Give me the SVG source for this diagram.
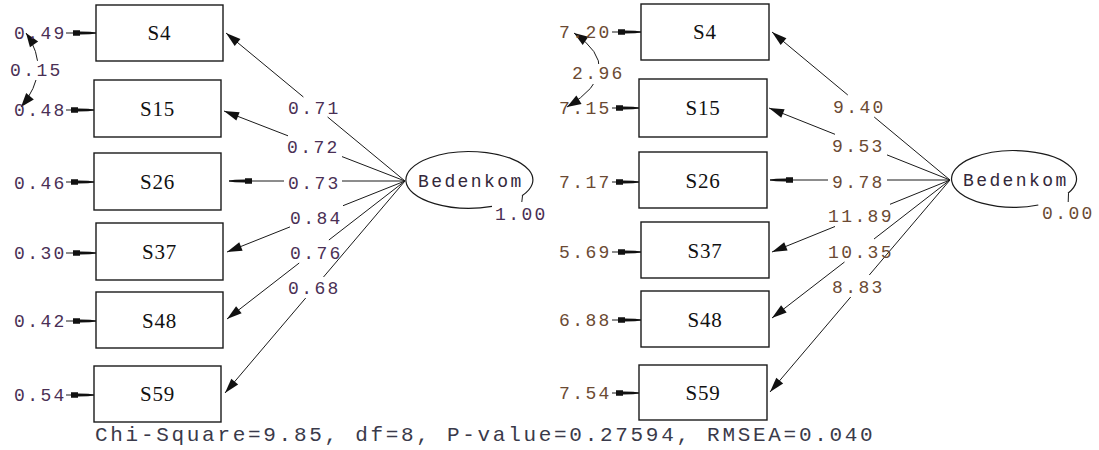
<svg xmlns="http://www.w3.org/2000/svg" width="1099" height="450" viewBox="0 0 1099 450">
  <style>
    .box { fill: #fff; stroke: #1a1a1a; stroke-width: 1.4; }
    .lat { fill: none; stroke: #1a1a1a; stroke-width: 1.2; }
    .bl { font-family: "Liberation Serif", serif; font-size: 21px; letter-spacing: 0.8px; fill: #111; text-anchor: middle; }
    .num { font-family: "Liberation Mono", monospace; font-size: 18px; letter-spacing: 2.4px; }
    .lv { fill: #4a2f55; }
    .rv { fill: #6b4a33; }
    .nm { fill: #33283a; }
    .ln { fill: none; stroke: #1a1a1a; stroke-width: 1; }
    .fit { font-family: "Liberation Mono", monospace; font-size: 21px; letter-spacing: 2.7px; fill: #3a3a4a; }
  </style>
  <defs>
    <marker id="ah" viewBox="-16 -6 17 12" refX="0" refY="0" markerWidth="17" markerHeight="12" markerUnits="userSpaceOnUse" orient="auto">
      <path d="M0,0 L-15,-4.5 L-15,4.5 z" fill="#111"/>
    </marker>
    <marker id="hh" viewBox="-24 -4 25 8" refX="0" refY="0" markerWidth="25" markerHeight="8" markerUnits="userSpaceOnUse" orient="auto">
      <path d="M0,0.6 L-6,1.2 L-16,1.6 L-16,2.8 L-23,2.8 L-23,-2.8 L-16,-2.8 L-16,-1.6 L-6,-1.2 L0,-0.6 z" fill="#111"/>
    </marker>
    <marker id="ch" viewBox="-15 -6 16 12" refX="0" refY="0" markerWidth="16" markerHeight="12" markerUnits="userSpaceOnUse" orient="auto-start-reverse">
      <path d="M0,0 L-14,-5 L-14,5 z" fill="#111"/>
    </marker>
  </defs>
  <rect width="1099" height="450" fill="#fff"/>

  <!-- connectors -->
  <g id="connectors" class="ln">
    <!-- left model: error arrows -->
    <path d="M66,33 L96,33" marker-end="url(#hh)"/>
    <path d="M66,110 L94,110" marker-end="url(#hh)"/>
    <path d="M66,182 L94,182" marker-end="url(#hh)"/>
    <path d="M66,253 L96,253" marker-end="url(#hh)"/>
    <path d="M66,321 L96,321" marker-end="url(#hh)"/>
    <path d="M66,395 L94,395" marker-end="url(#hh)"/>
    <!-- left model: error covariance -->
    <path d="M26,33 Q52,70 21,107" marker-start="url(#ch)" marker-end="url(#ch)"/>
    <!-- left model: loadings (split around labels) -->
    <path d="M303.4,97 L226,33" marker-end="url(#ah)"/>
    <path d="M327.6,117 L405,181"/>
    <path d="M288,135.8 L224,111" marker-end="url(#ah)"/>
    <path d="M342,156.6 L405,181"/>
    <path d="M284,181 L229,181" marker-end="url(#hh)"/>
    <path d="M342,181 L405,181"/>
    <path d="M290,226.9 L227,252" marker-end="url(#ah)"/>
    <path d="M343,205.7 L405,181"/>
    <path d="M299.2,263 L227,319" marker-end="url(#ah)"/>
    <path d="M328.9,240 L405,181"/>
    <path d="M305.7,298 L225,393" marker-end="url(#ah)"/>
    <path d="M323.5,277 L405,181"/>

    <!-- right model: error arrows -->
    <path d="M612,32 L641,32" marker-end="url(#hh)"/>
    <path d="M612,108 L639,108" marker-end="url(#hh)"/>
    <path d="M612,182 L639,182" marker-end="url(#hh)"/>
    <path d="M612,252 L641,252" marker-end="url(#hh)"/>
    <path d="M612,320 L641,320" marker-end="url(#hh)"/>
    <path d="M612,393 L639,393" marker-end="url(#hh)"/>
    <!-- right model: error covariance -->
    <path d="M574,33 Q628,70 567,107" marker-start="url(#ch)" marker-end="url(#ch)"/>
    <!-- right model: loadings (split around labels) -->
    <path d="M847.8,95 L772,32" marker-end="url(#ah)"/>
    <path d="M874.2,117 L950,180"/>
    <path d="M835,134.3 L769,108" marker-end="url(#ah)"/>
    <path d="M887,154.9 L950,180"/>
    <path d="M828,180 L770,180" marker-end="url(#hh)"/>
    <path d="M887,180 L950,180"/>
    <path d="M835,226.5 L772,252" marker-end="url(#ah)"/>
    <path d="M890,204.3 L950,180"/>
    <path d="M844.5,262 L772,318" marker-end="url(#ah)"/>
    <path d="M874,239 L950,180"/>
    <path d="M850.7,297 L770,392" marker-end="url(#ah)"/>
    <path d="M869.3,275 L950,180"/>
  </g>

  <!-- covariance labels break the arcs -->
  <g id="cov-left">
    <rect x="8" y="61" width="58" height="19" fill="#fff"/>
    <text class="num lv" x="10" y="76">0.15</text>
  </g>
  <g id="cov-right">
    <rect x="570" y="64" width="54" height="20" fill="#fff"/>
    <text class="num rv" x="572" y="79">2.96</text>
  </g>

  <!-- left model: observed variables -->
  <g id="L-S4"><rect class="box" x="96" y="5" width="127" height="56"/><text class="bl" x="159.5" y="40">S4</text></g>
  <g id="L-S15"><rect class="box" x="94" y="80" width="127" height="57"/><text class="bl" x="157.5" y="116">S15</text></g>
  <g id="L-S26"><rect class="box" x="94" y="153" width="127" height="57"/><text class="bl" x="157.5" y="189">S26</text></g>
  <g id="L-S37"><rect class="box" x="96" y="223" width="127" height="57"/><text class="bl" x="159.5" y="259">S37</text></g>
  <g id="L-S48"><rect class="box" x="96" y="292" width="127" height="56"/><text class="bl" x="159.5" y="328">S48</text></g>
  <g id="L-S59"><rect class="box" x="94" y="366" width="127" height="56"/><text class="bl" x="157.5" y="401">S59</text></g>

  <!-- left model: latent variable -->
  <g id="L-Bedenkom">
    <path class="lat" d="M522,195.8 A63.5,28.3 0 1 0 492,206.4"/>
    <path class="ln" d="M522.5,195.8 L521.8,202"/>
    <text class="num nm" x="418" y="187">Bedenkom</text>
    <text class="num lv" x="495" y="220">1.00</text>
  </g>

  <!-- left model: estimates -->
  <g id="L-errors" class="num lv">
    <text x="14" y="39">0.49</text>
    <text x="14" y="116">0.48</text>
    <text x="14" y="189">0.46</text>
    <text x="14" y="259">0.30</text>
    <text x="14" y="327">0.42</text>
    <text x="14" y="401">0.54</text>
  </g>
  <g id="L-loadings" class="num lv">
    <text x="288" y="114">0.71</text>
    <text x="287" y="153">0.72</text>
    <text x="288" y="189">0.73</text>
    <text x="290" y="224">0.84</text>
    <text x="290" y="259">0.76</text>
    <text x="288" y="294">0.68</text>
  </g>

  <!-- right model: observed variables -->
  <g id="R-S4"><rect class="box" x="641" y="4" width="128" height="56"/><text class="bl" x="705" y="39">S4</text></g>
  <g id="R-S15"><rect class="box" x="639" y="79" width="128" height="58"/><text class="bl" x="703" y="115">S15</text></g>
  <g id="R-S26"><rect class="box" x="639" y="152" width="128" height="56"/><text class="bl" x="703" y="188">S26</text></g>
  <g id="R-S37"><rect class="box" x="641" y="222" width="128" height="56"/><text class="bl" x="705" y="258">S37</text></g>
  <g id="R-S48"><rect class="box" x="641" y="291" width="128" height="56"/><text class="bl" x="705" y="327">S48</text></g>
  <g id="R-S59"><rect class="box" x="639" y="365" width="128" height="55"/><text class="bl" x="703" y="400">S59</text></g>

  <!-- right model: latent variable -->
  <g id="R-Bedenkom">
    <path class="lat" d="M1068,193.2 A62.5,28.3 0 1 0 1038.3,205"/>
    <path class="ln" d="M1068.5,193.2 L1068.2,202"/>
    <text class="num nm" x="963" y="186">Bedenkom</text>
    <text class="num rv" x="1042" y="219">0.00</text>
  </g>

  <!-- right model: estimates -->
  <g id="R-errors" class="num rv">
    <text x="559" y="38">7.20</text>
    <text x="559" y="114">7.15</text>
    <text x="559" y="188">7.17</text>
    <text x="559" y="258">5.69</text>
    <text x="559" y="326">6.88</text>
    <text x="559" y="399">7.54</text>
  </g>
  <g id="R-loadings" class="num rv">
    <text x="833" y="113">9.40</text>
    <text x="832" y="152">9.53</text>
    <text x="832" y="188">9.78</text>
    <text x="828" y="222">11.89</text>
    <text x="828" y="258">10.35</text>
    <text x="832" y="293">8.83</text>
  </g>

  <!-- fit statistics -->
  <g id="fit">
    <text class="fit" x="95" y="441">Chi-Square=9.85, df=8, P-value=0.27594, RMSEA=0.040</text>
  </g>
</svg>
